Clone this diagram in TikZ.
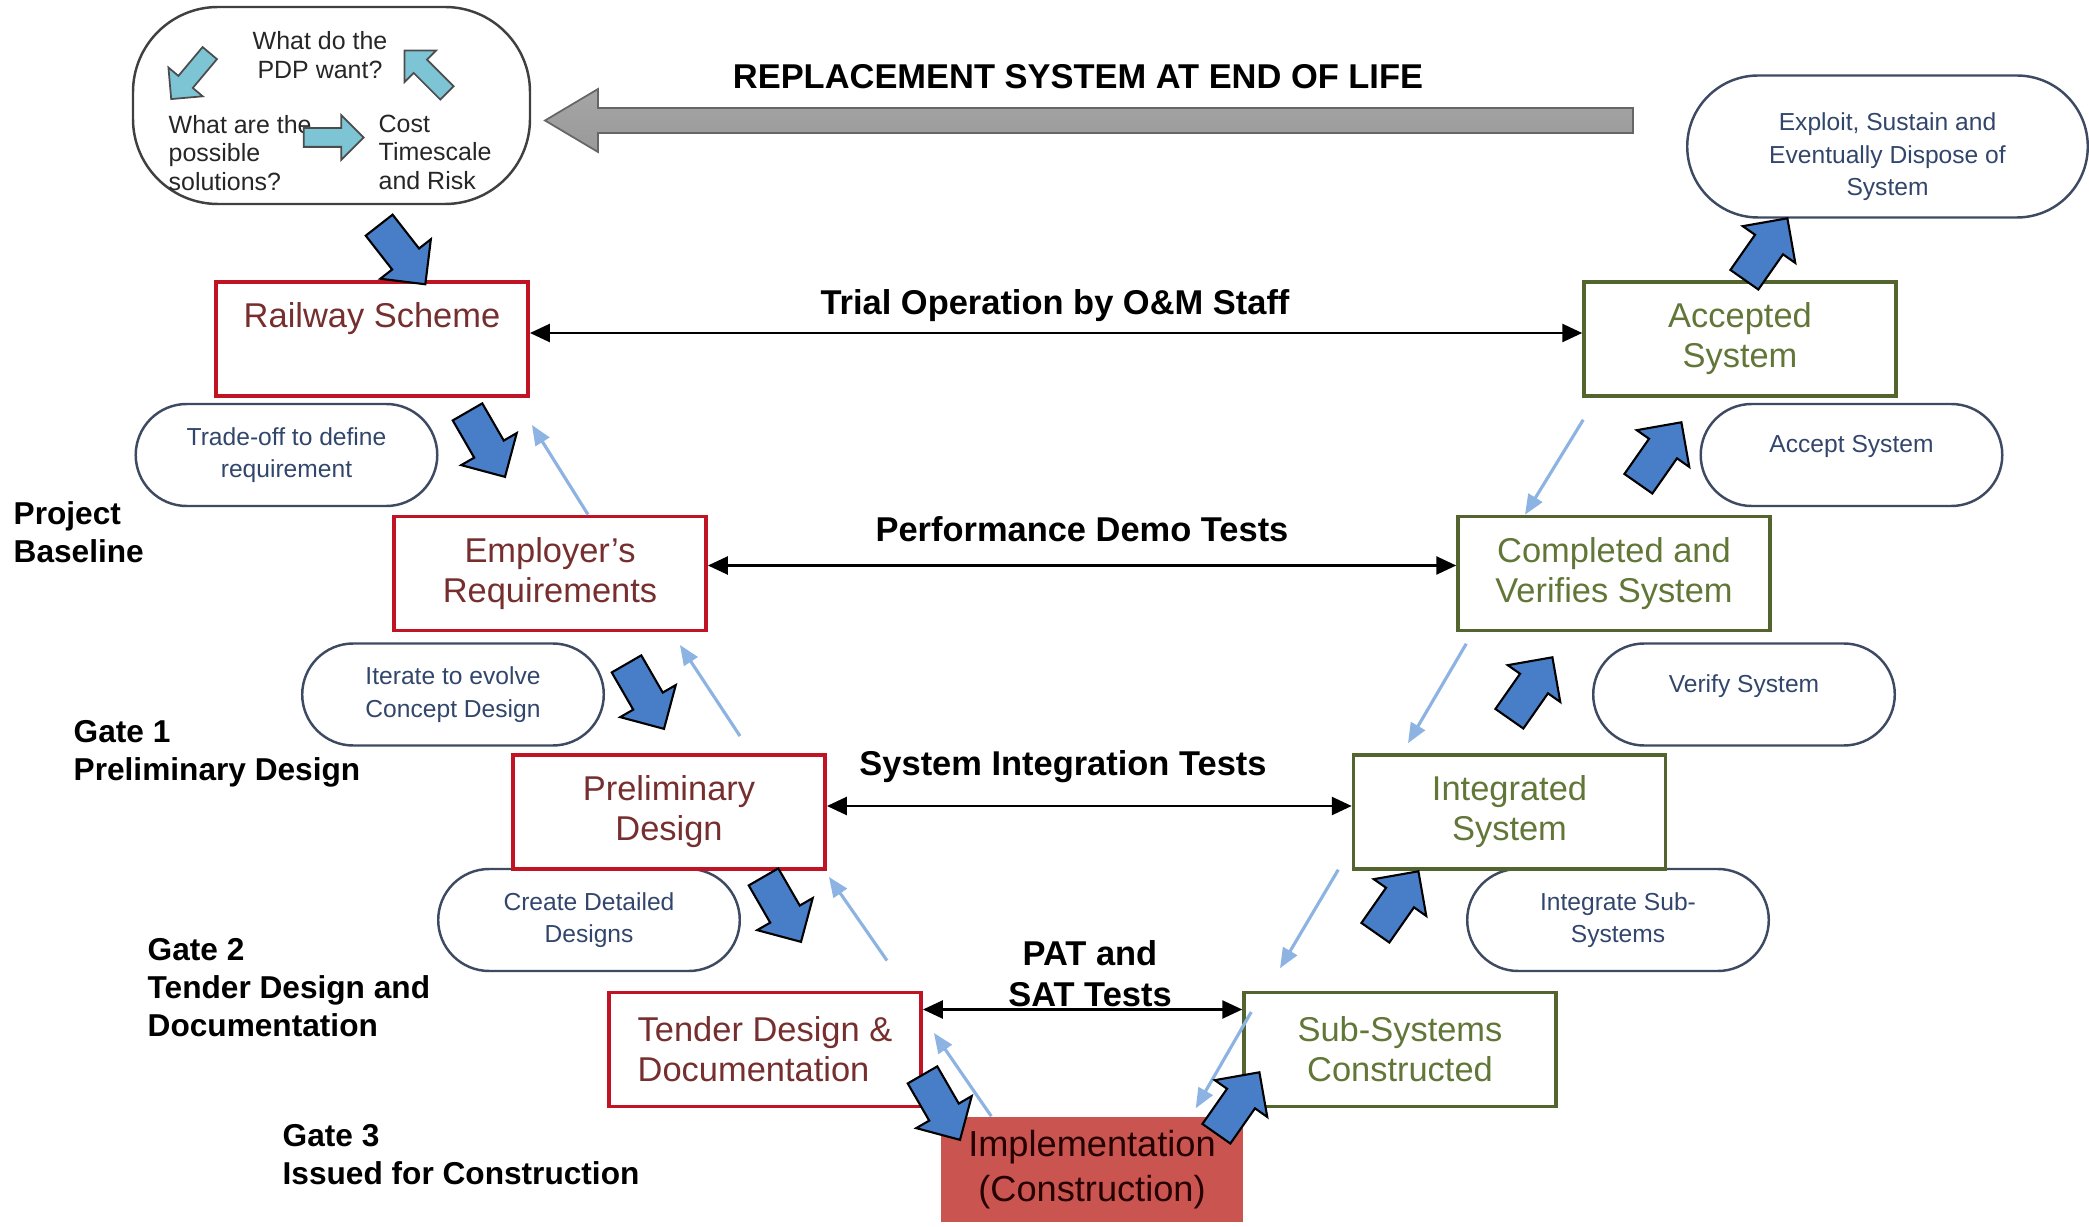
\documentclass[tikz,border=0pt]{standalone}
\usepackage{fontspec}
\setmainfont{Liberation Sans}
\usetikzlibrary{shapes.misc,shapes.arrows,arrows.meta}
\usepackage{xcolor}

\definecolor{boxred}{RGB}{192,20,36}
\definecolor{txtred}{RGB}{118,46,46}
\definecolor{boxgreen}{RGB}{84,100,46}
\definecolor{txtgreen}{RGB}{98,118,56}
\definecolor{pillline}{RGB}{62,74,98}
\definecolor{pilltxt}{RGB}{50,70,108}
\definecolor{blkblue}{RGB}{72,126,200}
\definecolor{fbblue}{RGB}{141,179,226}
\definecolor{cyanarr}{RGB}{125,196,212}
\definecolor{implred}{RGB}{201,84,80}

\tikzset{
redbox/.style={draw=boxred, line width=1.1pt, minimum width=3.12cm, minimum height=1.14cm, text=txtred, align=center, font=\fontsize{9.8}{11.4}\selectfont},
greenbox/.style={draw=boxgreen, line width=1pt, minimum width=3.12cm, minimum height=1.14cm, text=txtgreen, align=center, font=\fontsize{9.8}{11.4}\selectfont},
implbox/.style={fill=implred, minimum width=3.02cm, minimum height=1.05cm, text=black!85!red, align=center, font=\fontsize{10.3}{12.9}\selectfont},
pill/.style={rounded rectangle, draw=pillline, line width=0.7pt, minimum width=3.25cm, minimum height=1.02cm, text=pilltxt, align=center, font=\fontsize{7}{9.3}\selectfont},
toppill/.style={draw=black!75, line width=0.7pt, rounded corners=0.85cm, minimum width=3.97cm, minimum height=1.97cm},
toptxt/.style={inner sep=0, text=black!85, font=\fontsize{7.1}{8.1}\selectfont},
bigarrow/.style={single arrow, draw=black, line width=0.6pt, fill=blkblue, minimum height=0.75cm, inner sep=0.16cm, single arrow head extend=0.15cm},
smallarrow/.style={single arrow, draw=black!70, line width=0.5pt, fill=cyanarr, minimum height=0.6cm, inner sep=0.085cm, single arrow head extend=0.13cm},
fb/.style={draw=fbblue, line width=0.9pt, -{Triangle[length=2mm,width=1.6mm]}},
twoway/.style={line width=0.75pt, {Triangle[length=2mm,width=1.8mm]}-{Triangle[length=2mm,width=1.8mm]}},
lbl/.style={font=\fontsize{9.8}{11.7}\selectfont\bfseries},
gate/.style={anchor=west, inner sep=0, align=left, font=\fontsize{9}{10.8}\selectfont\bfseries}
}

\begin{document}
\begin{tikzpicture}
\useasboundingbox (0,0) rectangle (20.89,12.26);

\node[toppill] (pdp) at (3.315,11.205) {};
\node[toptxt, align=center] (want) at (3.20,11.71) {What do the\\PDP want?};
\node[toptxt, anchor=west, align=left] (sol) at (1.68,10.73) {What are the\\possible\\solutions?};
\node[toptxt, anchor=west, align=left] (cost) at (3.78,10.74) {Cost\\Timescale\\and Risk};
\node[smallarrow, rotate=-130] (cy1) at (1.935,11.535) {};
\node[smallarrow, rotate=135] (cy2) at (4.29,11.51) {};
\node[smallarrow] (cy3) at (3.29,10.885) {};

\coordinate (eol) at (16.33,11.055);
\shadedraw[draw=black!60, line width=0.5pt, top color=black!35, middle color=black!8, bottom color=black!40]
 (5.45,11.055)--(5.98,11.37)--(5.98,11.18)--(eol|-0,11.18)--(eol|-0,10.93)--(5.98,10.93)--(5.98,10.74)--cycle;
\node[lbl] (eoltxt) at (10.78,11.49) {REPLACEMENT SYSTEM AT END OF LIFE};

\node[pill, minimum width=4.24cm, minimum height=1.42cm] (ex) at (18.875,10.795) {\rule{0pt}{11pt}Exploit, Sustain and\\Eventually Dispose of\\System};
\node[pill] (to) at (2.865,7.71) {Trade-off to define\\requirement};
\node[pill] (ac) at (18.515,7.71) {Accept System\\[-3pt]\mbox{}};
\node[pill] (it) at (4.53,5.315) {Iterate to evolve\\Concept Design};
\node[pill] (vs) at (17.44,5.315) {Verify System\\[-3pt]\mbox{}};
\node[pill] (cd) at (5.89,3.06) {Create Detailed\\Designs};
\node[pill] (ig) at (16.18,3.06) {Integrate Sub-\\Systems};

\node[redbox] (rs) at (3.72,8.87) {Railway Scheme\\[2pt]\mbox{}};
\node[redbox] (er) at (5.50,6.525) {Employer’s\\Requirements};
\node[redbox] (pd) at (6.69,4.14) {Preliminary\\Design};
\node[redbox, align=left] (td) at (7.65,1.765) {Tender Design \&\\Documentation};
\node[implbox] (im) at (10.92,0.565) {Implementation\\(Construction)};
\node[greenbox] (as) at (17.40,8.87) {Accepted\\System};
\node[greenbox] (cv) at (16.14,6.525) {Completed and\\Verifies System};
\node[greenbox] (is) at (15.095,4.14) {Integrated\\System};
\node[greenbox] (ss) at (14.00,1.765) {Sub-Systems\\Constructed};

\node[lbl] (trial) at (10.55,9.20) {Trial Operation by O\&M Staff};
\node[lbl] (perf) at (10.82,6.97) {Performance Demo Tests};
\node[lbl] (sit) at (10.63,4.59) {System Integration Tests};
\node[lbl, align=center] (pat) at (10.90,2.525) {PAT and\\SAT Tests};

\draw[twoway] ([yshift=0.06cm]rs.east)--([yshift=0.06cm]as.west);
\draw[twoway] ([yshift=0.08cm]er.east)--([yshift=0.08cm]cv.west);
\draw[twoway] ([yshift=0.06cm]pd.east)--([yshift=0.06cm]is.west);
\draw[twoway] ([yshift=0.4cm]td.east)--([yshift=0.4cm]ss.west);

\draw[fb] ([xshift=0.38cm]er.north)--([shift={(0.02,-0.27)}]rs.south east);
\draw[fb] ([shift={(0.71,0.17)}]pd.north)--([shift={(-0.28,-0.125)}]er.south east);
\draw[fb] ([shift={(1.22,0.3)}]td.north)--([shift={(0.02,-0.06)}]pd.south east);
\draw[fb] ([xshift=0.51cm]im.north west)--([shift={(0.11,0.165)}]td.east);
\draw[fb] ([shift={(0.01,-0.22)}]as.south west)--([xshift=-0.89cm]cv.north);
\draw[fb] ([shift={(0.10,-0.115)}]cv.south west)--([shift={(-1.015,0.10)}]is.north);
\draw[fb] ([shift={(-0.135,0.01)}]is.south west)--([shift={(-1.20,0.225)}]ss.north);
\draw[fb] ([shift={(0.09,0.375)}]ss.west)--([shift={(-0.48,0.08)}]im.north east);

\foreach \x/\y/\a [count=\i] in {3.97/9.78/-52, 4.82/7.89/-60, 6.41/5.37/-60, 7.78/3.24/-60, 9.37/1.26/-60, 12.33/1.16/55, 13.92/3.17/55, 15.26/5.31/55, 16.55/7.66/55, 17.61/9.70/55}{
\node[bigarrow, rotate=\a] (blk\i) at (\x,\y) {};
}

\node[gate] (pb) at (0.13,6.935) {Project\\Baseline};
\node[gate] (g1) at (0.73,4.725) {Gate 1\\Preliminary Design};
\node[gate] (g2) at (1.47,2.38) {Gate 2\\Tender Design and\\Documentation};
\node[gate] (g3) at (2.82,0.71) {Gate 3\\Issued for Construction};
\end{tikzpicture}
\end{document}
